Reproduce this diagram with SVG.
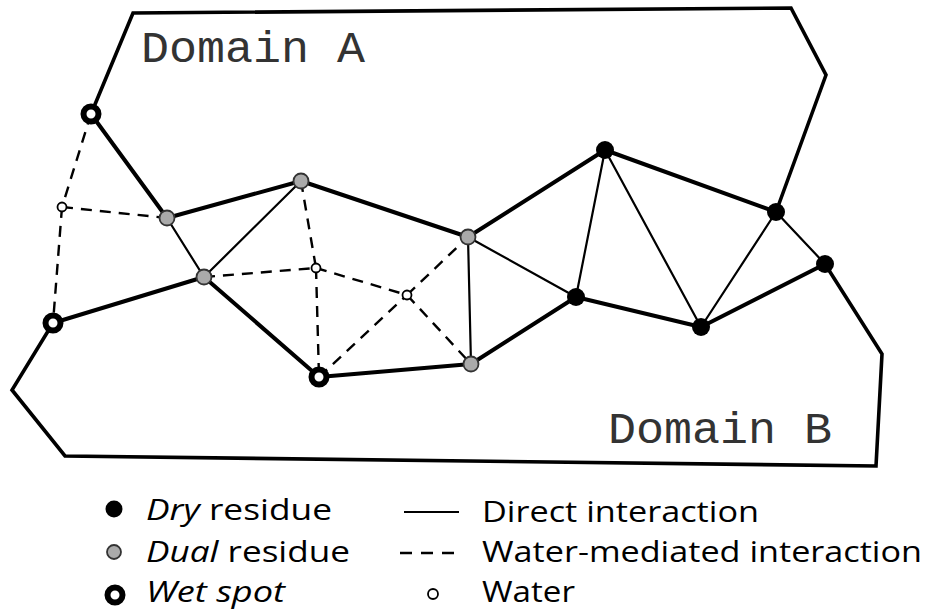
<svg xmlns="http://www.w3.org/2000/svg" width="944" height="612" viewBox="0 0 944 612">
<style>
.outline{fill:none;stroke:#000;stroke-width:3.6;stroke-linejoin:miter}
.thick{stroke:#000;stroke-width:4;fill:none;stroke-linejoin:round}
.thin{stroke:#000;stroke-width:2.2;fill:none}
.dash{stroke:#000;stroke-width:2.4;fill:none;stroke-dasharray:11 8}
.dry{fill:#000}
.dual{fill:#aaa;stroke:#333;stroke-width:1.8}
.wet{fill:#fff;stroke:#000;stroke-width:6}
.water{fill:#fff;stroke:#000;stroke-width:1.8}
.dom{font-family:"Liberation Mono",monospace;font-size:45px;fill:#333}
.leg{font-family:"Open Sans","Noto Sans",sans-serif;font-size:29.5px;fill:#000}
</style>
<rect width="944" height="612" fill="#fff"/>
<g id="domains">
<path class="outline" d="M91,114 L133,13 L791,8 L826,75 L776,212"/>
<path class="outline" d="M53,323 L12,390 L65,456 L876,466 L882,354 L825,264"/>
<text class="dom" x="141" y="62" textLength="224" lengthAdjust="spacingAndGlyphs">Domain A</text>
<text class="dom" x="608" y="443" textLength="224" lengthAdjust="spacingAndGlyphs">Domain B</text>
</g>
<g id="connectors">
<path class="thick" d="M91,114 L167,218 L301,181 L468,237 L605,150 L776,212"/>
<path class="thick" d="M53,323 L204,277 L319,377 L471,364 L576,297 L701,327 L825,264"/>
<path class="thin" d="M167,218 L204,277 M204,277 L301,181 M468,237 L471,364 M468,237 L576,297 M605,150 L576,297 M605,150 L701,327 M776,212 L701,327 M776,212 L825,264"/>
<path class="dash" d="M91,114 L62,207 M62,207 L53,323 M62,207 L167,218 M301,181 L316,268 M204,277 L316,268 M316,268 L319,377 M316,268 L407,295 M407,295 L471,364 M319,377 L407,295 M407,295 L468,237"/>
</g>
<g id="nodes">
<g id="wet1"><circle class="wet" cx="91" cy="114" r="7.5"/></g>
<g id="wet2"><circle class="wet" cx="53" cy="323" r="7.5"/></g>
<g id="wet3"><circle class="wet" cx="319" cy="377" r="7.5"/></g>
<g id="water1"><circle class="water" cx="62" cy="207" r="4.5"/></g>
<g id="water2"><circle class="water" cx="316" cy="268" r="4.5"/></g>
<g id="water3"><circle class="water" cx="407" cy="295" r="4.5"/></g>
<g id="dual1"><circle class="dual" cx="167" cy="218" r="7.5"/></g>
<g id="dual2"><circle class="dual" cx="301" cy="181" r="7.5"/></g>
<g id="dual3"><circle class="dual" cx="468" cy="237" r="7.5"/></g>
<g id="dual4"><circle class="dual" cx="471" cy="364" r="7.5"/></g>
<g id="dual5"><circle class="dual" cx="204" cy="277" r="7.5"/></g>
<g id="dry1"><circle class="dry" cx="605" cy="150" r="9"/></g>
<g id="dry2"><circle class="dry" cx="776" cy="212" r="9"/></g>
<g id="dry3"><circle class="dry" cx="825" cy="264" r="9"/></g>
<g id="dry4"><circle class="dry" cx="576" cy="297" r="9"/></g>
<g id="dry5"><circle class="dry" cx="701" cy="327" r="9"/></g>
</g>
<g id="legend">
<circle class="dry" cx="114" cy="509" r="8.5"/>
<circle class="dual" cx="114" cy="552" r="7"/>
<circle class="wet" cx="115" cy="595" r="7.5"/>
<text class="leg" x="146" y="520" textLength="186" lengthAdjust="spacingAndGlyphs"><tspan font-style="italic">Dry</tspan> residue</text>
<text class="leg" x="146" y="562" textLength="204" lengthAdjust="spacingAndGlyphs"><tspan font-style="italic">Dual</tspan> residue</text>
<text class="leg" x="146" y="602" textLength="139" lengthAdjust="spacingAndGlyphs" font-style="italic">Wet spot</text>
<line class="thin" x1="404" y1="512" x2="459" y2="512"/>
<line class="dash" x1="400" y1="553" x2="459" y2="553" style="stroke-dasharray:12 9"/>
<circle class="water" cx="433" cy="594" r="5"/>
<text class="leg" x="482" y="522" textLength="277" lengthAdjust="spacingAndGlyphs">Direct interaction</text>
<text class="leg" x="482" y="562" textLength="440" lengthAdjust="spacingAndGlyphs">Water-mediated interaction</text>
<text class="leg" x="482" y="602" textLength="93" lengthAdjust="spacingAndGlyphs">Water</text>
</g>
</svg>
